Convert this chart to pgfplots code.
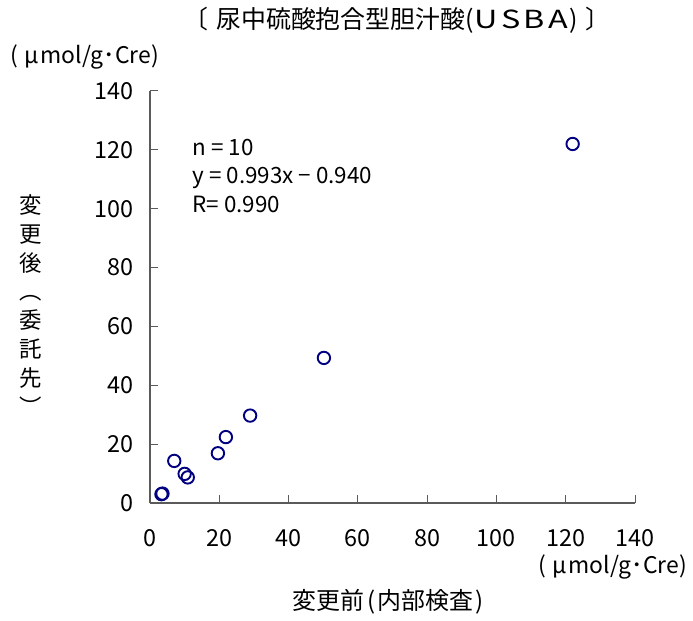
\documentclass[border=0pt]{standalone}
\usepackage{pgfplots}
\pgfplotsset{compat=1.18}
\usepackage{fontspec}
\setmainfont{Noto Sans CJK JP}
\definecolor{navy}{RGB}{0,0,128}
\definecolor{axgray}{RGB}{90,90,90}
\begin{document}
\begin{tikzpicture}
\path[use as bounding box] (0bp,0bp) rectangle (693bp,621bp);
\begin{axis}[
  at={(150bp,118bp)}, anchor=south west,
  scale only axis, width=485bp, height=412bp,
  xmin=0, xmax=140, ymin=0, ymax=140,
  axis x line=bottom, axis y line=left,
  axis line style={-, axgray, line width=1.3bp},
  xtick={0,20,...,140}, ytick={0,20,...,140},
  tick align=inside, major tick length=7.5bp,
  tick style={axgray, line width=1bp},
  /pgf/number format/assume math mode=true,
  tick label style={font=\fontsize{23.5}{23.5}\selectfont, black},
  xticklabel style={yshift=-23bp},
  yticklabel style={xshift=-13bp},
  clip=false,
]
\addplot[only marks, mark=o, mark size=6.2bp, draw=navy, line width=1.9bp]
coordinates {
(122,122) (50.2,49.3) (28.9,29.7) (21.9,22.4) (19.6,16.9)
(7.0,14.3) (10.0,9.9) (10.9,8.7) (3.3,3.0) (3.6,3.2)
};
\end{axis}
\node[anchor=west, align=left, font=\fontsize{22.5}{28.7}\selectfont] at (189bp,445bp)
  {n = 10\\y = 0.993x − 0.940\\R= 0.990};
\node[font=\fontsize{25}{25}\selectfont] at (397bp,601bp)
  {〔\hspace{8bp}尿中硫酸抱合型胆汁酸(\hspace{1bp}\scalebox{1.3}[1]{U\hspace{2.5bp}S\hspace{2.5bp}B\hspace{2.5bp}A}\hspace{1bp})\hspace{8bp}〕};
\node[font=\fontsize{23}{23}\selectfont] at (85bp,564bp) {(\hspace{6bp}μ\hspace{1.5bp}mol/g･Cre)};
\node[font=\fontsize{23}{23}\selectfont] at (613bp,54bp) {(\hspace{6bp}μ\hspace{1.5bp}mol/g･Cre)};
\node[font=\fontsize{24}{24}\selectfont] at (388bp,19bp)
  {変更前\hspace{3bp}(\hspace{2bp}内部検査\hspace{2bp})};
\node[align=center, font=\fontsize{22.5}{29}\selectfont] at (31bp,316bp)
  {変\\更\\後\\︵\\委\\託\\先\\︶};
\end{tikzpicture}
\end{document}
